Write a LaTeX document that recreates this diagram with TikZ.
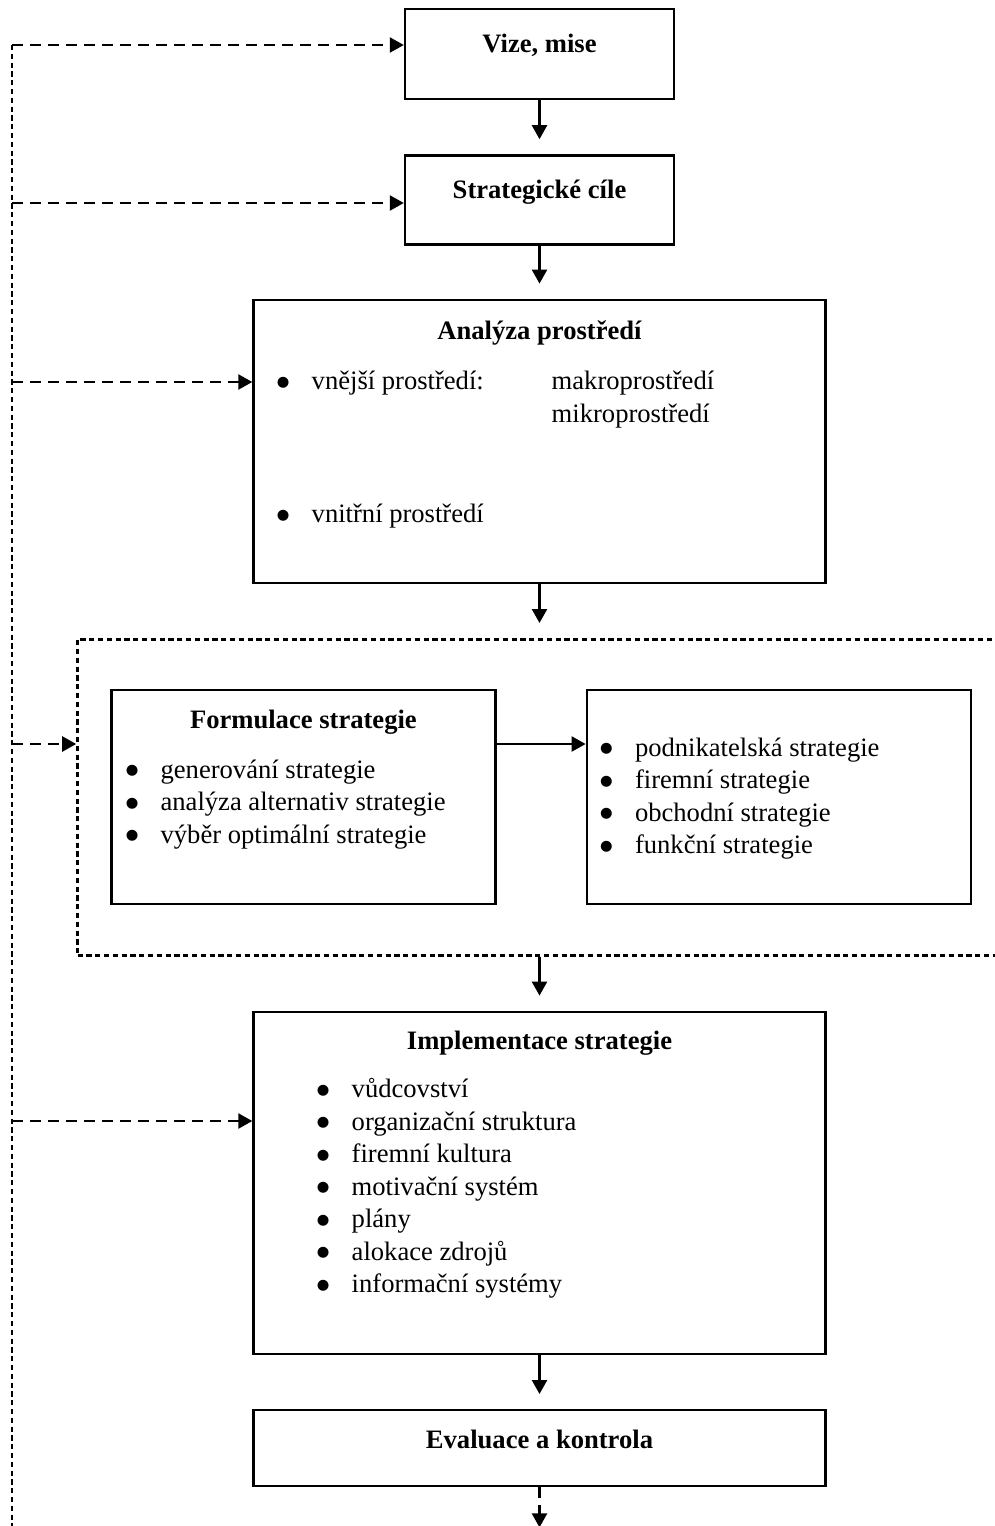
\documentclass[tikz,border=0pt]{standalone}
\usepackage{fontspec}
\setmainfont{Liberation Serif}
\newfontfamily\symfont{DejaVu Sans}
\usetikzlibrary{arrows.meta, positioning}

\newcommand{\bod}{\makebox[18pt][l]{\hspace{0.6pt}\raisebox{1.9pt}{\fontsize{7.2}{7.2}\symfont ●}}}
\newcommand{\radky}[1]{\begin{tabular}{@{}l@{}}#1\end{tabular}}

\begin{document}
\begin{tikzpicture}[
  x=0.5pt, y=0.5pt,
  every node/.style={font=\fontsize{13.3}{16.25}\selectfont},
  box/.style={rectangle, draw, line width=1.2pt, inner sep=0pt},
  nadpis/.style={font=\fontsize{13.3}{16.25}\selectfont\bfseries, text height=8.9pt, text depth=2.8pt, inner sep=0pt},
  polozky/.style={inner sep=0pt},
  ramec/.style={rectangle, draw, line width=1.3pt, dash pattern=on 2.6pt off 1.8pt, inner sep=0pt},
  arrow/.style={line width=1.2pt, -{Triangle[length=7pt,width=7.5pt]}},
  krok/.style={arrow, shorten >=7.5pt},
  dasharrow/.style={arrow, dash pattern=on 5.5pt off 3.5pt},
  tecky/.style={line width=1.4pt, dash pattern=on 2.6pt off 1.8pt}
]
\useasboundingbox (0,0) rectangle (995,-1526);
\clip (0,0) rectangle (995,-1526);

% Boxes
\node[box, minimum width=134.5pt, minimum height=45pt] (vize) at (539.5,-54) {};
\node[box, minimum width=134.5pt, minimum height=44.5pt, below=27pt of vize] (cile) {};
\node[box, minimum width=286pt, minimum height=141.5pt, below=26.5pt of cile] (analyza) {};
\node[ramec, minimum width=462pt, minimum height=158pt, below=27pt of analyza] (ramec) {};
\node[box, minimum width=192pt, minimum height=107pt, below right=25.5pt and 17pt of ramec.north west] (formulace) {};
\node[box, minimum width=192pt, minimum height=107pt, right=44.5pt of formulace] (typy) {};
\node[box, minimum width=286pt, minimum height=171pt, below=27pt of ramec] (impl) {};
\node[box, minimum width=286pt, minimum height=38pt, below=27pt of impl] (eval) {};

% Titles
\node[nadpis, below=13.1pt of vize.north] (t1) {Vize, mise};
\node[nadpis, below=13.1pt of cile.north] (t2) {Strategické cíle};
\node[nadpis, below=11.1pt of analyza.north] (t3) {Analýza prostředí};
\node[nadpis, below=10.6pt of formulace.north] (t4) {Formulace strategie};
\node[nadpis, below=10.1pt of impl.north] (t5) {Implementace strategie};
\node[nadpis, below=10.6pt of eval.north] (t6) {Evaluace a kontrola};

% Lists
\node[polozky, below right=34.1pt and 11.5pt of analyza.north west] (vnejsi) {\radky{\bod vnější prostředí:}};
\node[polozky, below right=34.1pt and 149.5pt of analyza.north west] (okoli) {\radky{makroprostředí\\ mikroprostředí}};
\node[polozky, below right=100.6pt and 11.5pt of analyza.north west] (vnitrni) {\radky{\bod vnitřní prostředí}};
\node[polozky, below right=33.1pt and 7pt of formulace.north west] (kroky) {\radky{\bod generování strategie\\
  \bod analýza alternativ strategie\\ \bod výběr optimální strategie}};
\node[polozky, below right=22.1pt and 6.5pt of typy.north west] (urovne) {\radky{\bod podnikatelská strategie\\
  \bod firemní strategie\\ \bod obchodní strategie\\ \bod funkční strategie}};
\node[polozky, below right=32.1pt and 31.5pt of impl.north west] (nastroje) {\radky{\bod vůdcovství\\
  \bod organizační struktura\\ \bod firemní kultura\\ \bod motivační systém\\ \bod plány\\
  \bod alokace zdrojů\\ \bod informační systémy}};

% Feedback line
\coordinate (z1) at (12,-45);
\coordinate (z2) at (12,-203);
\coordinate (z3) at (12,-382);
\coordinate (z4) at (12,-744);
\coordinate (z5) at (12,-1121);
\coordinate (zk) at (12,-1530);
\coordinate[below=20pt of eval.south] (konec);

\draw[tecky] (z1) -- (zk);
\draw[dasharrow] (z1) -- (z1 -| vize.west);
\draw[dasharrow] (z2) -- (z2 -| cile.west);
\draw[dasharrow] (z3) -- (z3 -| analyza.west);
\draw[dasharrow] (z4) -- (z4 -| ramec.west);
\draw[dasharrow] (z5) -- (z5 -| impl.west);

% Connections
\draw[krok] (vize) -- (cile);
\draw[krok] (cile) -- (analyza);
\draw[krok] (analyza) -- (ramec);
\draw[krok] (ramec) -- (impl);
\draw[krok] (impl) -- (eval);
\draw[arrow] (formulace.east |- z4) -- (typy.west |- z4);
\draw[dasharrow] (eval) -- (konec);

\end{tikzpicture}
\end{document}
